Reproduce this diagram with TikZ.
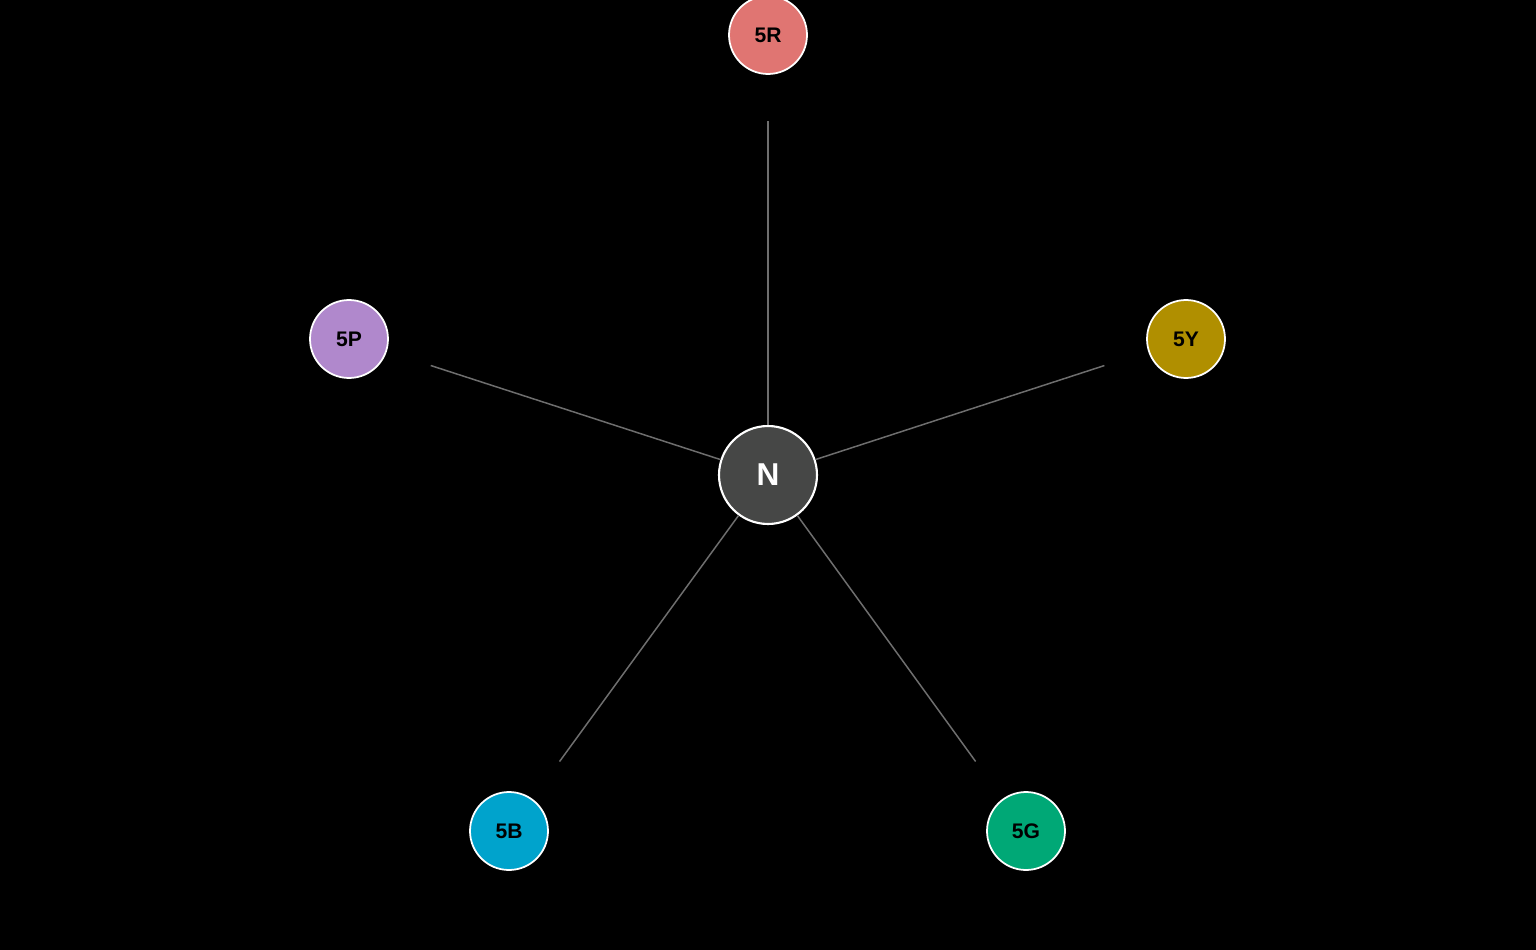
\documentclass[tikz,border=0pt]{standalone}
\usepackage{fontspec}
\setmainfont{Liberation Sans}
\definecolor{hubgray}{HTML}{464746}
\definecolor{redleaf}{HTML}{E07572}
\definecolor{yellowleaf}{HTML}{B08F00}
\definecolor{greenleaf}{HTML}{00A876}
\definecolor{blueleaf}{HTML}{00A3CC}
\definecolor{purpleleaf}{HTML}{B088CC}
\definecolor{spokegray}{HTML}{6E6E6E}
\begin{document}
\begin{tikzpicture}[
			x=0.02cm, y=-0.02cm,
			hub/.style={circle,draw=white,line width=1.2pt,fill=hubgray,minimum size=1.96cm,inner sep=0pt,text=white,font=\fontsize{18}{18}\selectfont\bfseries},
			leaf/.style={circle,draw=white,line width=1pt,minimum size=1.56cm,inner sep=0pt,text=black,font=\fontsize{12}{12}\selectfont\bfseries},
			spoke/.style={draw=spokegray,line width=0.85pt,shorten >=0.92cm}
		]
		\useasboundingbox (0,0) rectangle (1536,950);
		\fill[black] (0,0) rectangle (1536,950);
		\node[hub] (N) at (768,475) {N};
		\node[leaf,fill=redleaf] (R) at (768,35) {5R};
		\node[leaf,fill=yellowleaf] (Y) at (1186,339) {5Y};
		\node[leaf,fill=greenleaf] (G) at (1026,831) {5G};
		\node[leaf,fill=blueleaf] (B) at (509,831) {5B};
		\node[leaf,fill=purpleleaf] (P) at (349,339) {5P};
		\foreach \leafname in {R,Y,G,B,P}
			\draw[spoke] (N) -- (\leafname);
	\end{tikzpicture}
\end{document}
